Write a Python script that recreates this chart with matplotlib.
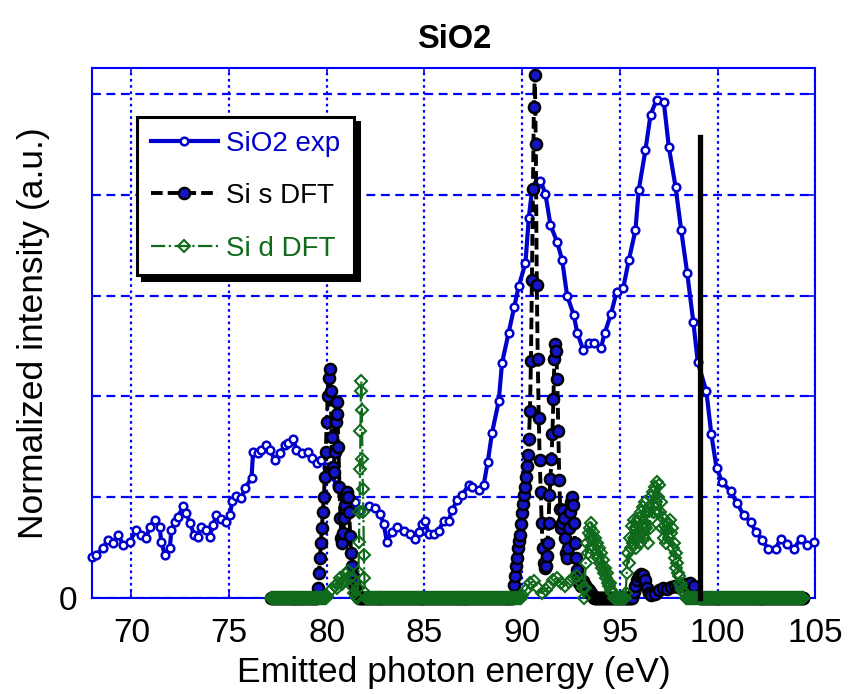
import numpy as np
import matplotlib
matplotlib.use('Agg')
import matplotlib.pyplot as plt

plt.rcParams['font.family'] = ['Liberation Sans', 'DejaVu Sans']

# SiO2 experimental emission spectrum (eV, normalized intensity)
exp_x = [68.0, 68.2, 68.55, 68.8, 69.06, 69.32, 69.57, 69.92, 70.25, 70.51, 70.77, 70.94,
         71.2, 71.45, 71.53, 71.71, 71.97, 72.05, 72.25, 72.39, 72.65, 72.82, 72.99, 73.21,
         73.41, 73.58, 73.84, 74.01, 74.18, 74.35, 74.61, 74.86, 75.04, 75.16, 75.38, 75.63,
         75.81, 76.15, 76.23, 76.49, 76.66, 76.91, 77.09, 77.34, 77.6, 77.86, 78.03, 78.28,
         78.45, 78.71, 79.05, 79.22, 79.48, 79.73, 80.0, 80.25, 80.5, 80.8, 81.0, 81.2,
         81.45, 81.7, 82.14, 82.48, 82.74, 82.91, 83.08, 83.34, 83.59, 83.93, 84.28, 84.53,
         84.7, 84.87, 85.04, 85.21, 85.47, 85.73, 85.98, 86.24, 86.41, 86.67, 86.92, 87.26,
         87.44, 87.77, 88.03, 88.24, 88.46, 88.8, 88.97, 89.31, 89.6, 89.82, 90.17, 90.34,
         90.51, 90.77, 90.94, 91.19, 91.45, 91.79, 92.05, 92.3, 92.64, 92.82, 93.13, 93.4,
         93.7, 94.03, 94.23, 94.55, 94.84, 95.17, 95.46, 95.8, 95.97, 96.31, 96.57, 96.88,
         97.25, 97.51, 97.85, 98.14, 98.45, 98.76, 98.99, 99.43, 99.68, 99.95, 100.24, 100.67,
         101.01, 101.35, 101.69, 101.95, 102.29, 102.58, 102.97, 103.23, 103.57, 103.91, 104.25, 104.6,
         104.94]
exp_y = [0.41, 0.43, 0.50, 0.58, 0.55, 0.63, 0.53, 0.56, 0.68, 0.63, 0.60, 0.71,
         0.78, 0.71, 0.56, 0.43, 0.50, 0.68, 0.76, 0.81, 0.91, 0.84, 0.75, 0.63,
         0.61, 0.71, 0.68, 0.61, 0.73, 0.82, 0.79, 0.76, 0.82, 0.96, 1.01, 0.99,
         1.09, 1.19, 1.45, 1.44, 1.47, 1.52, 1.47, 1.37, 1.44, 1.52, 1.54, 1.58,
         1.47, 1.44, 1.45, 1.39, 1.34, 1.37, 1.30, 1.22, 1.12, 1.02, 0.97, 0.91,
         0.95, 0.87, 0.91, 0.89, 0.83, 0.74, 0.56, 0.66, 0.71, 0.67, 0.64, 0.59,
         0.66, 0.74, 0.77, 0.64, 0.64, 0.67, 0.77, 0.77, 0.87, 0.97, 1.02, 1.12,
         1.10, 1.07, 1.12, 1.35, 1.64, 1.95, 2.33, 2.63, 2.89, 3.09, 3.32, 3.77,
         4.05, 4.11, 4.14, 4.01, 3.70, 3.53, 3.35, 3.00, 2.81, 2.63, 2.46, 2.53,
         2.53, 2.48, 2.63, 2.82, 3.04, 3.07, 3.35, 3.65, 4.05, 4.44, 4.79, 4.94,
         4.92, 4.47, 4.08, 3.65, 3.22, 2.74, 2.34, 2.05, 1.63, 1.29, 1.15, 1.06,
         0.94, 0.82, 0.76, 0.66, 0.58, 0.49, 0.49, 0.59, 0.54, 0.49, 0.59, 0.53,
         0.56]

# DFT energy grid (0.05 eV), values are zero outside the features below
dft_energy = np.round(np.arange(77.15, 104.41, 0.05), 2)

# Si s DFT features
s_a_x = [79.5, 79.55, 79.6, 79.65, 79.7, 79.75, 79.8, 79.85, 79.9, 79.95, 80.0, 80.05,
         80.1, 80.15, 80.2, 80.25, 80.3, 80.35, 80.4, 80.45, 80.5, 80.55, 80.6, 80.65,
         80.7, 80.75, 80.8, 80.85, 80.9, 80.95, 81.0, 81.05, 81.1, 81.15, 81.2, 81.25,
         81.3, 81.35, 81.4, 81.45, 81.5, 81.55, 81.6]
s_a_y = [0.0, 0.1, 0.25, 0.4, 0.55, 0.7, 0.85, 1.0, 1.2, 1.45, 1.75, 2.0,
         2.18, 2.27, 2.05, 1.6, 1.3, 1.25, 1.45, 1.75, 1.94, 1.83, 1.5, 1.1,
         0.8, 0.6, 0.55, 0.65, 0.8, 0.92, 1.0, 1.05, 1.0, 0.85, 0.62, 0.45,
         0.32, 0.22, 0.15, 0.1, 0.06, 0.03, 0.01]
s_b_x = [89.55, 89.6, 89.65, 89.7, 89.75, 89.8, 89.85, 89.9, 89.95, 90.0, 90.05, 90.1,
         90.15, 90.2, 90.25, 90.3, 90.35, 90.4, 90.45, 90.5, 90.55, 90.6, 90.65, 90.7,
         90.75, 90.8, 90.85, 90.9, 90.95, 91.0, 91.05, 91.1, 91.15, 91.2, 91.25, 91.3,
         91.35, 91.4, 91.45, 91.5, 91.55, 91.6, 91.65, 91.7, 91.75, 91.8, 91.85, 91.9,
         91.95, 92.0, 92.05, 92.1, 92.15, 92.2, 92.25, 92.3, 92.35, 92.4, 92.45, 92.5,
         92.55, 92.6, 92.65, 92.7, 92.75, 92.8, 92.85, 92.9, 93.0, 93.1, 93.2, 93.3,
         93.4, 93.5, 93.6, 93.7]
s_b_y = [0.0, 0.13, 0.22, 0.32, 0.4, 0.5, 0.57, 0.63, 0.74, 0.84, 0.93, 1.02,
         1.1, 1.2, 1.31, 1.42, 1.58, 1.86, 2.35, 3.15, 4.06, 4.87, 5.19, 4.5,
         3.1, 2.37, 1.79, 1.37, 1.05, 0.75, 0.5, 0.35, 0.3, 0.32, 0.42, 0.55,
         0.75, 1.02, 1.18, 1.38, 1.63, 1.97, 2.37, 2.52, 2.45, 2.17, 1.66, 1.17,
         0.88, 0.7, 0.75, 0.87, 0.8, 0.6, 0.45, 0.4, 0.5, 0.7, 0.85, 0.95,
         1.0, 0.92, 0.75, 0.55, 0.4, 0.28, 0.2, 0.15, 0.12, 0.17, 0.13, 0.1,
         0.08, 0.05, 0.02, 0.0]
s_c_x = [95.6, 95.7, 95.8, 95.9, 96.0, 96.1, 96.2, 96.3, 96.4, 96.5, 96.6, 96.8,
         97.0, 97.2, 97.4, 97.6, 97.8, 98.0, 98.2, 98.4, 98.6, 98.8, 99.0, 99.1]
s_c_y = [0.0, 0.06, 0.12, 0.18, 0.22, 0.24, 0.23, 0.18, 0.1, 0.05, 0.03, 0.04,
         0.08, 0.1, 0.09, 0.11, 0.12, 0.11, 0.13, 0.14, 0.15, 0.12, 0.02, 0.0]

# Si d DFT features
d_a_x = [80.0, 80.2, 80.4, 80.5, 80.6, 80.7, 80.8, 80.9, 81.0, 81.1, 81.2, 81.3, 81.4, 81.5]
d_a_y = [0.02, 0.08, 0.12, 0.1, 0.15, 0.2, 0.14, 0.18, 0.24, 0.27, 0.2, 0.12, 0.05, 0.02]
d_b_x = [81.6, 81.625, 81.65, 81.675, 81.7, 81.725, 81.75, 81.775, 81.8, 81.825, 81.85,
         81.875, 81.9, 81.925, 81.95]
d_b_y = [0.1, 0.26, 0.56, 0.85, 1.28, 1.66, 2.05, 2.15, 1.87, 1.38, 1.08,
         0.85, 0.43, 0.2, 0.05]
d_c_x = [90.0, 90.2, 90.4, 90.6, 90.8, 91.0, 91.2, 91.4, 91.6, 91.8, 92.0, 92.2,
         92.4, 92.6, 92.8, 93.0, 93.1]
d_c_y = [0.03, 0.08, 0.15, 0.17, 0.1, 0.05, 0.08, 0.12, 0.18, 0.2, 0.15, 0.12,
         0.16, 0.2, 0.22, 0.15, 0.1]
d_d_x = [93.2, 93.25, 93.3, 93.35, 93.4, 93.45, 93.5, 93.55, 93.6, 93.65, 93.7, 93.75,
         93.8, 93.85, 93.9, 93.95, 94.0, 94.05, 94.1, 94.15, 94.2, 94.25, 94.3, 94.35,
         94.4, 94.45, 94.5, 94.55, 94.6, 94.7]
d_d_y = [0.1, 0.35, 0.55, 0.45, 0.65, 0.7, 0.62, 0.75, 0.58, 0.66, 0.5, 0.6,
         0.45, 0.55, 0.4, 0.5, 0.35, 0.45, 0.3, 0.38, 0.25, 0.3, 0.2, 0.25,
         0.15, 0.12, 0.15, 0.08, 0.05, 0.0]
d_e_x = [95.3, 95.35, 95.4, 95.45, 95.5, 95.55, 95.6, 95.65, 95.7, 95.75, 95.8, 95.85,
         95.9, 95.95, 96.0, 96.05, 96.1, 96.15, 96.2, 96.25, 96.3, 96.35, 96.4, 96.45,
         96.5, 96.55, 96.6, 96.65, 96.7, 96.75, 96.8, 96.85, 96.9, 96.95, 97.0, 97.05,
         97.1, 97.15, 97.2, 97.25, 97.3, 97.35, 97.4, 97.45, 97.5, 97.55, 97.6, 97.65,
         97.7, 97.75, 97.8, 97.85, 97.9, 97.95, 98.0, 98.05, 98.1, 98.15, 98.2, 98.3,
         98.4]
d_e_y = [0.05, 0.25, 0.45, 0.35, 0.6, 0.5, 0.72, 0.55, 0.78, 0.6, 0.7, 0.5,
         0.75, 0.6, 0.8, 0.55, 0.85, 0.65, 0.9, 0.6, 0.95, 0.7, 0.85, 0.55,
         0.9, 0.7, 1.0, 0.8, 1.05, 0.85, 1.1, 0.95, 1.15, 1.0, 1.12, 0.85,
         0.95, 0.7, 0.8, 0.6, 0.72, 0.55, 0.68, 0.75, 0.6, 0.78, 0.65, 0.7,
         0.5, 0.55, 0.4, 0.45, 0.3, 0.35, 0.25, 0.22, 0.15, 0.12, 0.08, 0.05,
         0.0]

# valence band edge marker
edge_x = 99.1
edge_top = 4.57

x_ticks = [70, 75, 80, 85, 90, 95, 100, 105]
y_ticks = [0, 1, 2, 3, 4, 5]


def assemble(features):
    xs, ys = [], []
    for e in dft_energy:
        if not any(fx[0] <= e <= fx[-1] for fx, fy in features):
            xs.append(e)
            ys.append(0.0)
    for fx, fy in features:
        xs += list(fx)
        ys += list(fy)
    order = np.argsort(xs)
    return np.array(xs)[order], np.array(ys)[order]


s_x, s_y = assemble([(s_a_x, s_a_y), (s_b_x, s_b_y), (s_c_x, s_c_y)])
d_x, d_y = assemble([(d_a_x, d_a_y), (d_b_x, d_b_y), (d_c_x, d_c_y),
                     (d_d_x, d_d_y), (d_e_x, d_e_y)])

blue = '#0000cc'
green = '#0f6a1c'
grid_blue = '#0000ff'

fig = plt.figure(figsize=(8.49, 6.94), dpi=100)
ax = fig.add_axes([0.1087, 0.138, 0.8515, 0.7647])

ax.plot(exp_x, exp_y, '-', color=blue, lw=3.0, marker='o', ms=5.5,
        mfc='white', mec=blue, mew=1.8, label='SiO2 exp', clip_on=False, zorder=3)
ax.plot(s_x, s_y, color='black', ls=(0, (3, 1.3)), lw=2.8, marker='o', ms=8,
        mfc='#1414c8', mec='black', mew=1.8, label='Si s DFT', clip_on=False, zorder=4)
ax.plot(d_x, d_y, color=green, ls='-.', lw=1.6, marker='D', ms=6.5,
        mfc='none', mec=green, mew=1.5, label='Si d DFT', clip_on=False, zorder=5)
ax.plot([edge_x, edge_x], [0, edge_top], color='black', lw=3.8, zorder=6,
        clip_on=False)

ax.set_xlim(68, 105)
ax.set_ylim(0, 5.26)
ax.set_xticks(x_ticks)
ax.set_yticks(y_ticks)
ax.set_yticklabels(['0', '', '', '', '', ''])

ax.xaxis.grid(True, color=grid_blue, ls=(0, (1.2, 1.6)), lw=1.6)
ax.yaxis.grid(True, color=grid_blue, ls=(0, (4, 2.5)), lw=1.6)
ax.set_axisbelow(True)
for sp in ax.spines.values():
    sp.set_color(grid_blue)
    sp.set_linewidth(1.5)
ax.tick_params(axis='both', direction='in', length=5, width=1.2, color=grid_blue,
               top=True, right=True, labelsize=24)
ax.tick_params(axis='x', pad=14)
ax.tick_params(axis='y', pad=11)

ax.set_xlabel('Emitted photon energy (eV)', fontsize=25.5, labelpad=5)
ax.set_ylabel('Normalized intensity (a.u.)', fontsize=25.5, labelpad=6)
ax.set_title('SiO2', fontsize=23.5, fontweight='bold', pad=14)

leg = ax.legend(loc='upper left', bbox_to_anchor=(0.062, 0.907), borderaxespad=0,
                fontsize=20, labelcolor='linecolor', handlelength=2.4,
                handletextpad=0.3, labelspacing=0.95, borderpad=0.5,
                fancybox=False, edgecolor='black', framealpha=1,
                shadow={'ox': 3.5, 'oy': -3.5, 'color': 'black', 'alpha': 1})
leg.get_frame().set_linewidth(2.2)
leg.set_zorder(10)

fig.savefig('out.png', dpi=100)
